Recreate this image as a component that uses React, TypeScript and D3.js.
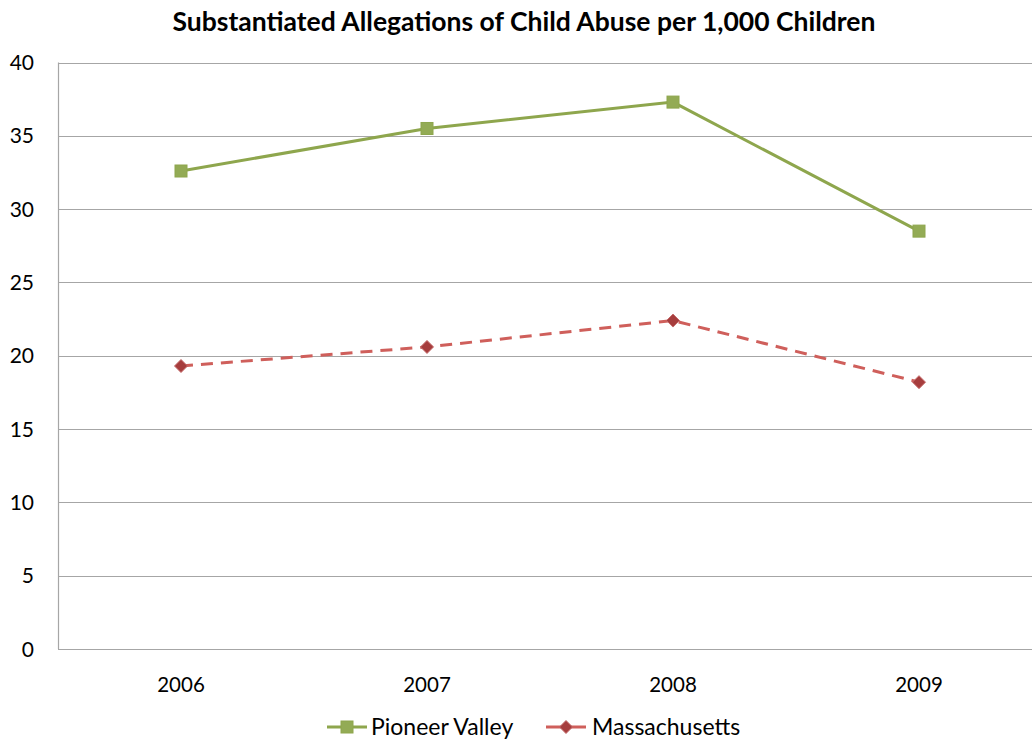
import React, { useEffect, useRef } from "react";
import * as d3 from "d3";

const years = ["2006", "2007", "2008", "2009"];
const pioneerValley = [32.6, 35.5, 37.3, 28.5];
const massachusetts = [19.3, 20.6, 22.4, 18.2];
const yTicks = [0, 5, 10, 15, 20, 25, 30, 35, 40];
const seriesNames = ["Pioneer Valley", "Massachusetts"];

const W = 1032;
const H = 740;
const FONT = "Lato, 'Open Sans', sans-serif";

export default function App() {
  const ref = useRef<SVGSVGElement>(null);

  useEffect(() => {
    document.body.style.margin = "0";
    const svg = d3.select(ref.current);
    svg.selectAll("*").remove();

    const left = 58;
    const top = 62.5;
    const bottom = 649;
    const band = 246;

    const x = d3
      .scaleBand<string>()
      .domain(years)
      .range([left, left + band * years.length])
      .paddingInner(0)
      .paddingOuter(0);
    const y = d3.scaleLinear().domain([0, 40]).range([bottom, top]);
    const cx = (d: string) => (x(d) as number) + x.bandwidth() / 2;

    // horizontal gridlines
    svg
      .append("g")
      .selectAll("line")
      .data(yTicks)
      .join("line")
      .attr("x1", left)
      .attr("x2", W)
      .attr("y1", (d) => Math.round(y(d)) + 0.5)
      .attr("y2", (d) => Math.round(y(d)) + 0.5)
      .attr("stroke", "#a6a6a6")
      .attr("stroke-width", 1.2);

    // y axis line
    svg
      .append("line")
      .attr("x1", left + 0.5)
      .attr("x2", left + 0.5)
      .attr("y1", y(40))
      .attr("y2", y(0))
      .attr("stroke", "#a6a6a6")
      .attr("stroke-width", 1.2);

    // y tick labels
    svg
      .append("g")
      .selectAll("text")
      .data(yTicks)
      .join("text")
      .attr("x", 34)
      .attr("y", (d) => y(d) + 7.5)
      .attr("text-anchor", "end")
      .attr("font-family", FONT)
      .attr("font-size", 21)
      .attr("fill", "#000")
      .text((d) => d);

    // x category labels
    svg
      .append("g")
      .selectAll("text")
      .data(years)
      .join("text")
      .attr("x", (d) => cx(d))
      .attr("y", 692)
      .attr("text-anchor", "middle")
      .attr("font-family", FONT)
      .attr("font-size", 20.5)
      .attr("fill", "#000")
      .text((d) => d);

    // title
    svg
      .append("text")
      .attr("x", 524)
      .attr("y", 31)
      .attr("text-anchor", "middle")
      .attr("font-family", FONT)
      .attr("font-weight", "bold")
      .attr("font-size", 26.5)
      .attr("fill", "#000")
      .text("Substantiated Allegations of Child Abuse per 1,000 Children");

    const line = d3
      .line<number>()
      .x((_, i) => cx(years[i]))
      .y((d) => y(d));

    const green = "#8ea64d";
    const greenFill = "#93ab55";
    const red = "#cf5f5b";
    const redMarker = "#a63d3d";

    // Pioneer Valley
    svg
      .append("path")
      .datum(pioneerValley)
      .attr("d", line)
      .attr("fill", "none")
      .attr("stroke", green)
      .attr("stroke-width", 3);
    svg
      .append("g")
      .selectAll("rect")
      .data(pioneerValley)
      .join("rect")
      .attr("x", (_, i) => cx(years[i]) - 6)
      .attr("y", (d) => y(d) - 6)
      .attr("width", 12)
      .attr("height", 12)
      .attr("fill", greenFill)
      .attr("stroke", green)
      .attr("stroke-width", 1);

    // Massachusetts
    svg
      .append("path")
      .datum(massachusetts)
      .attr("d", line)
      .attr("fill", "none")
      .attr("stroke", red)
      .attr("stroke-width", 3)
      .attr("stroke-dasharray", "12 8");
    const diamond = (px: number, py: number, r: number) =>
      `M${px},${py - r}L${px + r},${py}L${px},${py + r}L${px - r},${py}Z`;
    svg
      .append("g")
      .selectAll("path")
      .data(massachusetts)
      .join("path")
      .attr("d", (d, i) => diamond(cx(years[i]), y(d), 6.5))
      .attr("fill", redMarker)
      .attr("stroke", "#c56a6a")
      .attr("stroke-width", 1);

    // legend
    const legendY = 727;
    const legend = [
      { name: seriesNames[0], x0: 327, textX: 371, color: green },
      { name: seriesNames[1], x0: 546, textX: 592, color: red },
    ];
    legend.forEach((l, i) => {
      svg
        .append("line")
        .attr("x1", l.x0)
        .attr("x2", l.x0 + 40)
        .attr("y1", legendY)
        .attr("y2", legendY)
        .attr("stroke", l.color)
        .attr("stroke-width", 3);
      const mx = l.x0 + 20;
      if (i === 0) {
        svg
          .append("rect")
          .attr("x", mx - 6)
          .attr("y", legendY - 6)
          .attr("width", 12)
          .attr("height", 12)
          .attr("fill", greenFill)
          .attr("stroke", green);
      } else {
        svg
          .append("path")
          .attr("d", diamond(mx, legendY, 6.5))
          .attr("fill", redMarker)
          .attr("stroke", "#c56a6a");
      }
      svg
        .append("text")
        .attr("x", l.textX)
        .attr("y", legendY + 8)
        .attr("font-family", FONT)
        .attr("font-size", 23)
        .attr("fill", "#000")
        .text(l.name);
    });
  }, []);

  return (
    <div style={{ position: "absolute", left: 0, top: 0 }}>
      <svg ref={ref} width={W} height={H} style={{ display: "block", background: "#fff" }} />
    </div>
  );
}
